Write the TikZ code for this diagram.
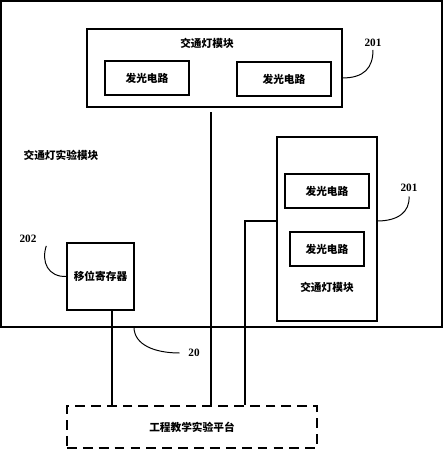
\documentclass[tikz,border=0pt]{standalone}
\usepackage{fontspec}
\usepackage{tikz}
\usetikzlibrary{positioning}
\newfontfamily\cjk{Noto Sans CJK SC}
\newfontfamily\numf{Liberation Serif}

\begin{document}
\begin{tikzpicture}[
    x=0.025cm, y=-0.025cm,
    every node/.style={font=\cjk\bfseries\fontsize{7.6}{9}\selectfont, inner sep=0pt},
    modbox/.style={draw, line width=1.05pt, minimum height=0.85cm, align=center},
    bigbox/.style={draw, line width=1.4pt, minimum width=11.025cm, minimum height=8.15cm},
    platbox/.style={draw, line width=1.1pt, dash pattern=on 7pt off 4.3pt,
                    minimum width=6.25cm, minimum height=1.05cm},
    lbl/.style={font=\numf\bfseries\fontsize{8}{9}\selectfont},
    wire/.style={line width=0.85pt},
    lead/.style={line width=0.7pt},
]
\useasboundingbox (0,0) rectangle (444,450);
% Outer experiment module
\node[bigbox] (exp) at (221.5,164) {};
\node (exptxt) at (61,155) {交通灯实验模块};
% Top traffic light module
\node[modbox, minimum width=6.375cm, minimum height=1.95cm] (tl1) at (214.5,68) {};
\node (tl1txt) at (207,43) {交通灯模块};
\node[modbox, minimum width=2.1cm] (led1) at (147,78) {发光电路};
\node[modbox, minimum width=2.35cm] (led2) at (284,79) {发光电路};
% Right traffic light module
\node[modbox, minimum width=2.5cm, minimum height=4.6cm] (tl2) at (327,229) {};
\node[modbox, minimum width=2.1cm] (led3) at (327,191) {发光电路};
\node[modbox, minimum width=1.85cm] (led4) at (327,249) {发光电路};
\node (tl2txt) at (327,287) {交通灯模块};
% Shift register and platform
\node[modbox, minimum width=1.675cm, minimum height=1.675cm] (sr) at (100.5,276.5) {移位寄存器};
\node[platbox] (plat) at (192,427) {工程教学实验平台};
% Reference numbers
\node[lbl] (n201a) at (373,43) {201};
\node[lbl] (n201b) at (409,188) {201};
\node[lbl] (n202) at (28,239) {202};
\node[lbl] (n20) at (194,353) {20};
% Wires down to the platform
\coordinate (j1) at (211,112);
\coordinate (j2) at (112,0);
\coordinate (j3) at (245,221);
\draw[wire] (j1) -- (j1 |- plat.north);
\draw[wire] (sr.south -| j2) -- (j2 |- plat.north);
\draw[wire] (tl2.west |- j3) -| (j3 |- plat.north);
% Leader curves
\draw[lead] (342,78) .. controls (364,78) and (373,68) .. ([yshift=-2]n201a.south);
\draw[lead] (377,221) .. controls (398,221) and (410,212) .. ([yshift=-3]n201b.south);
\draw[lead] (sr.west) .. controls (48,277) and (41,262) .. ([xshift=13,yshift=-2]n202.south);
\draw[lead] (134,327) .. controls (134,345) and (155,353) .. ([xshift=-6]n20.west);
\end{tikzpicture}
\end{document}
